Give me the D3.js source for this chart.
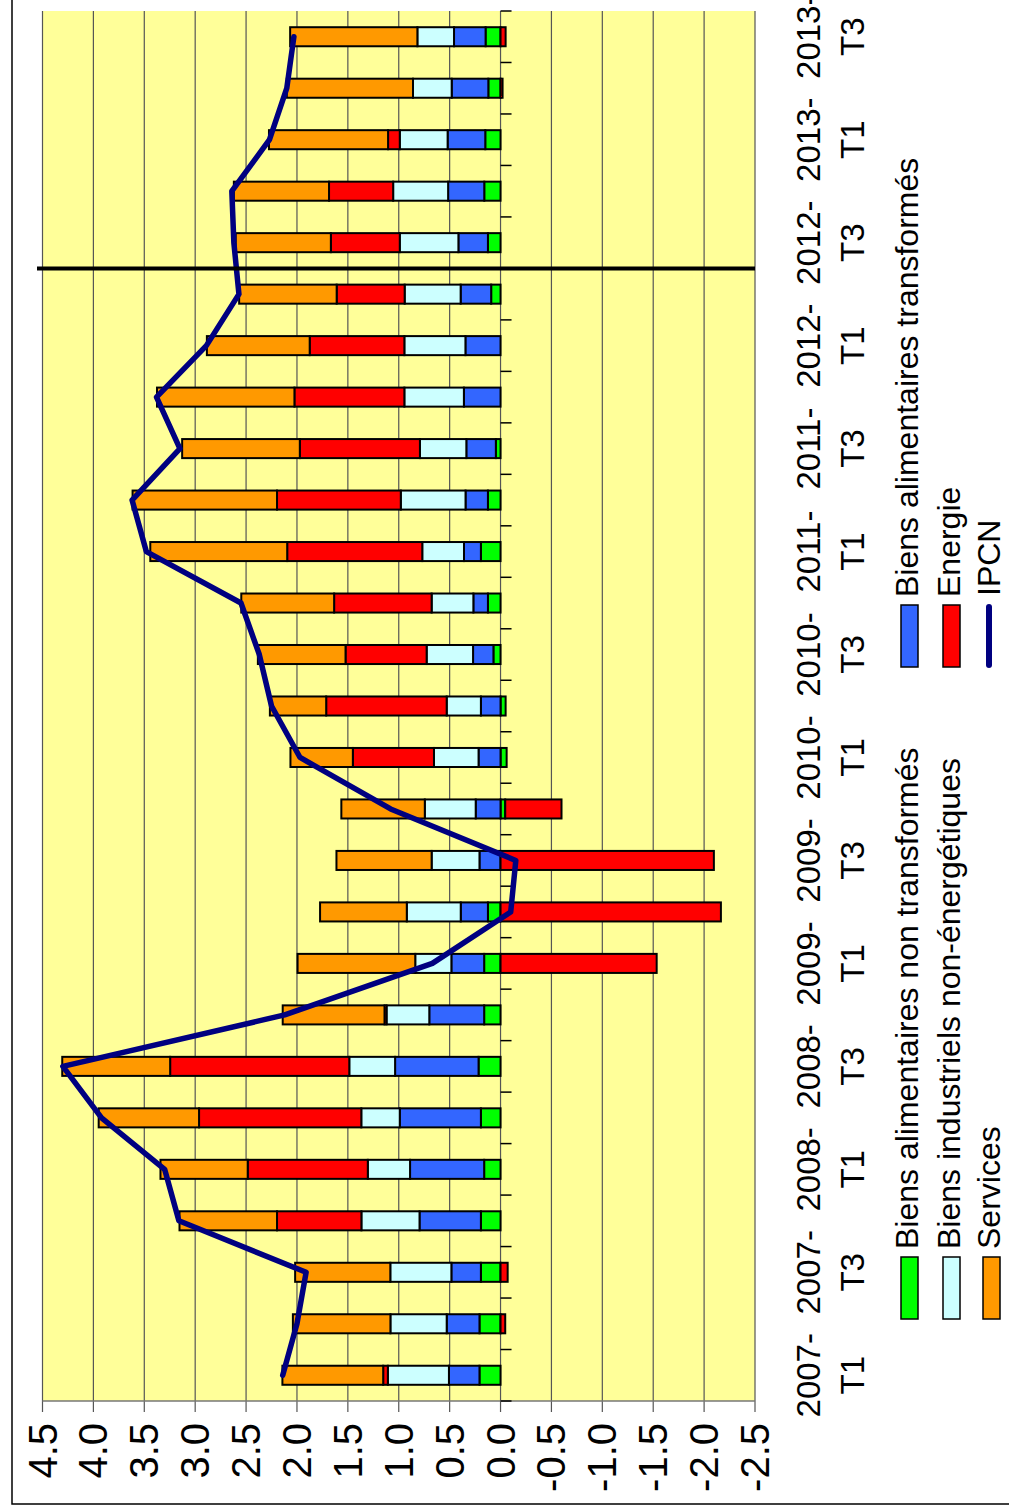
<!DOCTYPE html>
<html><head><meta charset="utf-8">
<script src="https://cdn.jsdelivr.net/npm/d3@7"></script>
<style>html,body{margin:0;padding:0;background:#fff;} svg{display:block;}</style>
</head><body>
<svg id="chart" width="1009" height="1512"></svg>
<script>
const categories = ["2007- T1","2007- T2","2007- T3","2007- T4","2008- T1","2008- T2","2008- T3","2008- T4",
  "2009- T1","2009- T2","2009- T3","2009- T4","2010- T1","2010- T2","2010- T3","2010- T4",
  "2011- T1","2011- T2","2011- T3","2011- T4","2012- T1","2012- T2","2012- T3","2012- T4",
  "2013- T1","2013- T2","2013- T3"];
const bant = [0.207,0.207,0.193,0.193,0.161,0.193,0.216,0.161,0.161,0.124,0,-0.046,-0.06,-0.05,0.07,0.124,
  0.193,0.124,0.046,0,0,0.092,0.124,0.16,0.15,0.12,0.147];
const bat = [0.30,0.322,0.29,0.603,0.728,0.797,0.82,0.539,0.322,0.267,0.207,0.244,0.216,0.193,0.2,0.143,
  0.166,0.22,0.29,0.36,0.345,0.30,0.29,0.355,0.37,0.36,0.31];
const bine = [0.60,0.553,0.60,0.571,0.415,0.378,0.45,0.42,0.355,0.53,0.47,0.50,0.438,0.336,0.456,0.41,
  0.41,0.636,0.456,0.585,0.60,0.55,0.576,0.54,0.47,0.38,0.36];
const energie = [0.046,-0.046,-0.07,0.829,1.18,1.594,1.76,0.02,-1.534,-2.165,-2.096,-0.553,0.797,1.184,0.797,0.958,
  1.327,1.216,1.18,1.08,0.93,0.668,0.677,0.63,0.115,-0.02,-0.05];
const services = [0.99,0.958,0.935,0.958,0.857,0.986,1.06,1.0,1.156,0.852,0.935,0.82,0.613,0.553,0.861,0.912,
  1.345,1.419,1.156,1.35,1.01,0.958,0.935,0.935,1.17,1.24,1.25];
const ipcn = [2.14,2.00,1.91,3.16,3.30,3.92,4.30,2.12,0.67,-0.10,-0.15,1.08,1.97,2.25,2.37,2.55,
  3.48,3.62,3.15,3.38,2.89,2.57,2.62,2.64,2.27,2.10,2.03];
const seriesKeys = ["bant","bat","bine","energie","services"];
const seriesNames = {bant:"Biens alimentaires non transformés", bat:"Biens alimentaires transformés",
  bine:"Biens industriels non-énergétiques", energie:"Energie", services:"Services"};
const seriesColors = {bant:"#00FF00", bat:"#3366FF", bine:"#CCFFFF", energie:"#FF0000", services:"#FF9900"};
const lineName = "IPCN";
const valueTicks = [4.5,4.0,3.5,3.0,2.5,2.0,1.5,1.0,0.5,0.0,-0.5,-1.0,-1.5,-2.0,-2.5];
const valueTickLabels = ["4.5","4.0","3.5","3.0","2.5","2.0","1.5","1.0","0.5","0.0","-0.5","-1.0","-1.5","-2.0","-2.5"];
const separatorAfter = "2012- T2";
const legendCol1 = ["bant","bine","services"];
const legendCol2 = ["bat","energie","ipcn"];

const FONT = "'Liberation Sans', Arial, sans-serif";
const W = 1512; // width of the unrotated frame
const svg = d3.select("#chart");
const g = svg.append("g").attr("transform", `translate(0,${W}) rotate(-90)`);

const x = d3.scaleBand().domain(categories).range([111, 1501]).padding(0);
const y = d3.scaleLinear().domain([-2.5, 4.5]).range([755, 42.5]);

// outer frame
g.append("path").attr("d", `M8,1200 L8,12 L1600,12`).attr("fill","none").attr("stroke","#000").attr("stroke-width",1.5);

// plot background
g.append("rect").attr("x", x.range()[0]).attr("y", y(4.5)).attr("width", x.range()[1]-x.range()[0])
  .attr("height", y(-2.5)-y(4.5)).attr("fill", "#FFFF99");

// gridlines + value ticks
g.append("g").selectAll("line").data(valueTicks).join("line")
  .attr("x1", x.range()[0]-11).attr("x2", x.range()[1])
  .attr("y1", d=>y(d)).attr("y2", d=>y(d))
  .attr("stroke", "#555").attr("stroke-width", 1.2);
// value axis line
g.append("line").attr("x1", x.range()[0]).attr("x2", x.range()[0]).attr("y1", y(4.5)).attr("y2", y(-2.5))
  .attr("stroke","#777").attr("stroke-width",1.5);
// value labels
g.append("g").selectAll("text").data(valueTicks).join("text")
  .attr("x", 89).attr("y", d=>y(d)).attr("text-anchor","end").attr("dominant-baseline","central")
  .attr("font-family", FONT).attr("font-size", 40).attr("fill","#000")
  .text((d,i)=>valueTickLabels[i]);

// stacked bars
const rows = categories.map((c,i)=>({cat:c, bant:bant[i], bat:bat[i], bine:bine[i], energie:energie[i], services:services[i]}));
const stack = d3.stack().keys(seriesKeys).offset(d3.stackOffsetDiverging);
const stacked = stack(rows);
const barW = x.bandwidth()*0.37;
const barsG = g.append("g");
stacked.forEach(s=>{
  barsG.append("g").selectAll("rect").data(s.filter(d=>Math.abs(d[1]-d[0])>1e-9)).join("rect")
    .attr("x", d=>x(d.data.cat) + (x.bandwidth()-barW)/2)
    .attr("width", barW)
    .attr("y", d=>y(Math.max(d[0],d[1])))
    .attr("height", d=>Math.abs(y(d[0])-y(d[1])))
    .attr("fill", seriesColors[s.key]).attr("stroke","#000").attr("stroke-width",2);
});

// category ticks on zero line
const bounds = categories.map(c=>x(c)).concat([x.range()[1]]);
g.append("g").selectAll("line").data(bounds).join("line")
  .attr("x1", d=>d).attr("x2", d=>d).attr("y1", y(0)).attr("y2", y(0)+11)
  .attr("stroke","#000").attr("stroke-width",1.5);

// category labels (every other)
const labG = g.append("g").attr("font-family", FONT).attr("font-size", 33).attr("fill","#000");
categories.forEach((c,i)=>{
  if (i%2!==0) return;
  const parts = c.split(" ");
  const cx = x(c)+x.bandwidth()/2;
  labG.append("text").attr("x", cx).attr("y", 820).attr("text-anchor","middle").text(parts[0]);
  labG.append("text").attr("x", cx).attr("y", 864).attr("text-anchor","middle").text(parts[1]);
});

// IPCN line
const line = d3.line().x((d,i)=>x(categories[i])+x.bandwidth()/2).y(d=>y(d));
g.append("path").datum(ipcn).attr("d", line).attr("fill","none").attr("stroke","#000080")
  .attr("stroke-width",5.5).attr("stroke-linejoin","round").attr("stroke-linecap","round");

// separator line
const sepX = x(separatorAfter)+x.bandwidth();
g.append("line").attr("x1", sepX).attr("x2", sepX).attr("y1", 37).attr("y2", y(-2.5))
  .attr("stroke","#000").attr("stroke-width",4);

// legend
const legG = g.append("g").attr("font-family", FONT).attr("font-size", 32).attr("fill","#000");
const rowsY = [918, 960, 1000];
function legendItem(key, sx, row){
  const by = rowsY[row];
  if (key === "ipcn") {
    legG.append("line").attr("x1", sx+2).attr("x2", sx+60).attr("y1", by-11).attr("y2", by-11)
      .attr("stroke","#000080").attr("stroke-width",6).attr("stroke-linecap","round");
    legG.append("text").attr("x", sx+71).attr("y", by).text(lineName);
  } else {
    legG.append("rect").attr("x", sx).attr("y", by-17).attr("width", 62).attr("height", 17)
      .attr("fill", seriesColors[key]).attr("stroke","#000").attr("stroke-width",1.5);
    legG.append("text").attr("x", sx+70).attr("y", by).text(seriesNames[key]);
  }
}
legendCol1.forEach((k,i)=>legendItem(k, 193, i));
legendCol2.forEach((k,i)=>legendItem(k, 845, i));
</script>
</body></html>
